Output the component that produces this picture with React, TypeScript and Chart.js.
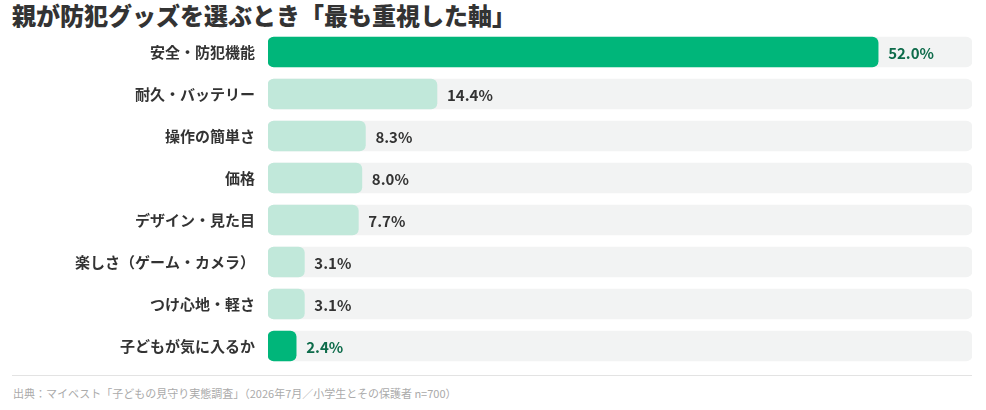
import { useRef, useEffect } from "react";
import { Chart, registerables, type Plugin } from "chart.js";

Chart.register(...registerables);

const FONT = '"Noto Sans CJK JP", "Noto Sans", sans-serif';

const categories = [
  "安全・防犯機能",
  "耐久・バッテリー",
  "操作の簡単さ",
  "価格",
  "デザイン・見た目",
  "楽しさ（ゲーム・カメラ）",
  "つけ心地・軽さ",
  "子どもが気に入るか",
];
const shares = [52.0, 14.4, 8.3, 8.0, 7.7, 3.1, 3.1, 2.4];
const highlighted = ["安全・防犯機能", "子どもが気に入るか"];
const AXIS_MAX = 60;

const GREEN       = "#00B67A";
const GREEN_LIGHT = "#C1E8DA";
const TRACK       = "#F2F3F3";
const GREEN_TEXT  = "#0D6B4A";
const DARK_TEXT   = "#333333";

// value labels right of each bar
const valueLabels: Plugin<"bar"> = {
  id: "valueLabels",
  afterDatasetsDraw(chart) {
    const meta = chart.getDatasetMeta(1);
    const ctx = chart.ctx;
    ctx.save();
    ctx.font = `bold 15px ${FONT}`;
    ctx.textBaseline = "middle";
    ctx.textAlign = "left";
    meta.data.forEach((bar, i) => {
      const isHi = highlighted.includes(categories[i]);
      ctx.fillStyle = isHi ? GREEN_TEXT : DARK_TEXT;
      ctx.fillText(shares[i].toFixed(1) + "%", bar.x + 10, bar.y + 1);
    });
    ctx.restore();
  },
};

export default function App() {
  const ref = useRef<HTMLCanvasElement>(null);

  useEffect(() => {
    document.body.style.margin = "0";
    if (!ref.current) return;
    const chart = new Chart(ref.current, {
      type: "bar",
      data: {
        labels: categories,
        datasets: [
          {
            label: "track",
            data: categories.map(() => AXIS_MAX),
            backgroundColor: TRACK,
            borderRadius: 6,
            borderSkipped: false,
            barThickness: 30,
            grouped: false,
            order: 2,
          },
          {
            label: "share",
            data: shares,
            backgroundColor: categories.map((c) => (highlighted.includes(c) ? GREEN : GREEN_LIGHT)),
            borderRadius: 6,
            borderSkipped: false,
            barThickness: 30,
            grouped: false,
            order: 1,
          },
        ],
      },
      options: {
        indexAxis: "y",
        animation: false,
        responsive: true,
        maintainAspectRatio: false,
        layout: { padding: { left: 0, right: 14, top: 0, bottom: 0 } },
        plugins: { legend: { display: false }, tooltip: { enabled: false } },
        scales: {
          x: { display: false, min: 0, max: AXIS_MAX },
          y: {
            grid: { display: false },
            border: { display: false },
            ticks: {
              padding: 5,
              color: DARK_TEXT,
              font: { family: FONT, size: 15, weight: "bold" },
            },
            afterFit: (scale) => {
              scale.width = 268;
              scale.paddingTop = 0;
              scale.paddingBottom = 0;
            },
          },
        },
      },
      plugins: [valueLabels],
    });
    return () => { chart.destroy(); };
  }, []);

  return (
    <div style={{ position: "relative", width: 986, height: 410, background: "#fff", fontFamily: FONT }}>
      <div style={{ position: "absolute", left: 12, top: -1, fontSize: 24, fontWeight: 900, color: DARK_TEXT, lineHeight: "32px" }}>
        親が防犯グッズを選ぶとき「最も重視した軸」
      </div>
      <div style={{ position: "absolute", left: 0, top: 31, width: 986, height: 336 }}>
        <canvas ref={ref} />
      </div>
      <div style={{ position: "absolute", left: 12, top: 375, width: 960, borderTop: "1px solid #E3E3E3" }} />
      <div style={{ position: "absolute", left: 13, top: 385, fontSize: 11, color: "#AAAAAA", lineHeight: "16px" }}>
        出典：マイベスト「子どもの見守り実態調査」（2026年7月／小学生とその保護者 n=700）
      </div>
    </div>
  );
}
